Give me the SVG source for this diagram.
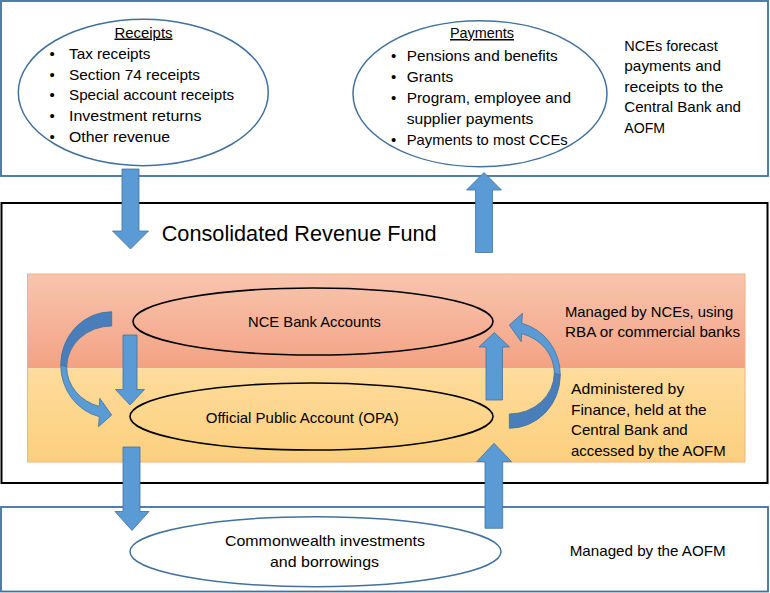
<svg xmlns="http://www.w3.org/2000/svg" width="770" height="593" viewBox="0 0 770 593">
<defs>
<linearGradient id="gTop" x1="0" y1="0" x2="0" y2="1">
<stop offset="0" stop-color="#F8C5AF"/>
<stop offset="1" stop-color="#F3A283"/>
</linearGradient>
<linearGradient id="gBot" x1="0" y1="0" x2="0" y2="1">
<stop offset="0" stop-color="#FEDC9C"/>
<stop offset="1" stop-color="#FCCF7E"/>
</linearGradient>
<style>
.t{font-family:"Liberation Sans",Arial,sans-serif;font-size:15px;fill:#000}
.box{fill:#fff;stroke:#41719C;stroke-width:1.8}
.ell{fill:#fff;stroke:#41719C;stroke-width:1.5}
.bell{fill:none;stroke:#000;stroke-width:1.6}
.arr{fill:#5B9BD5;stroke:#41719C;stroke-width:0.8}
.dark{fill:#4A7EBB;stroke:#41719C;stroke-width:0.8}
</style>
</defs>

<g id="top-panel">
<rect class="box" x="1" y="1" width="767" height="175"/>
</g>

<g id="receipts">
<ellipse class="ell" cx="143.3" cy="92.5" rx="125" ry="73.2"/>
<text class="t" x="143.5" y="37.5" text-anchor="middle" text-decoration="underline" textLength="58" lengthAdjust="spacingAndGlyphs">Receipts</text>
<g class="t">
<text x="49.5" y="59">•</text>
<text x="49.5" y="79.7">•</text>
<text x="49.5" y="100.4">•</text>
<text x="49.5" y="121.1">•</text>
<text x="49.5" y="141.8">•</text>
</g>
<text class="t" x="69" y="59" textLength="81.5" lengthAdjust="spacingAndGlyphs">Tax receipts</text>
<text class="t" x="69" y="79.7" textLength="131" lengthAdjust="spacingAndGlyphs">Section 74 receipts</text>
<text class="t" x="69" y="100.4" textLength="165" lengthAdjust="spacingAndGlyphs">Special account receipts</text>
<text class="t" x="69" y="121.1" textLength="132.5" lengthAdjust="spacingAndGlyphs">Investment returns</text>
<text class="t" x="69" y="141.8" textLength="101" lengthAdjust="spacingAndGlyphs">Other revenue</text>
</g>

<g id="payments">
<ellipse class="ell" cx="480" cy="93.7" rx="127" ry="73"/>
<text class="t" x="482" y="38" text-anchor="middle" text-decoration="underline" textLength="64" lengthAdjust="spacingAndGlyphs">Payments</text>
<g class="t">
<text x="391" y="60.5">•</text>
<text x="391" y="81.5">•</text>
<text x="391" y="102.5">•</text>
<text x="391" y="144.5">•</text>
</g>
<text class="t" x="406.7" y="60.5" textLength="151" lengthAdjust="spacingAndGlyphs">Pensions and benefits</text>
<text class="t" x="406.7" y="81.5" textLength="46.5" lengthAdjust="spacingAndGlyphs">Grants</text>
<text class="t" x="406.7" y="102.5" textLength="164.3" lengthAdjust="spacingAndGlyphs">Program, employee and</text>
<text class="t" x="406.7" y="123.5" textLength="126.7" lengthAdjust="spacingAndGlyphs">supplier payments</text>
<text class="t" x="406.7" y="144.5" textLength="161" lengthAdjust="spacingAndGlyphs">Payments to most CCEs</text>
</g>

<g id="forecast-note">
<text class="t" x="624.3" y="50.5" textLength="93.4" lengthAdjust="spacingAndGlyphs">NCEs forecast</text>
<text class="t" x="624.3" y="71" textLength="96.7" lengthAdjust="spacingAndGlyphs">payments and</text>
<text class="t" x="624.3" y="91.5" textLength="99" lengthAdjust="spacingAndGlyphs">receipts to the</text>
<text class="t" x="624.3" y="112" textLength="116.7" lengthAdjust="spacingAndGlyphs">Central Bank and</text>
<text class="t" x="624.3" y="132.5" textLength="40.7" lengthAdjust="spacingAndGlyphs">AOFM</text>
</g>

<g id="bottom-panel">
<rect class="box" x="1" y="507" width="767" height="84.5"/>
</g>

<g id="commonwealth">
<ellipse class="ell" cx="315.5" cy="551.7" rx="185.5" ry="35"/>
<text class="t" x="325" y="546" text-anchor="middle" textLength="200" lengthAdjust="spacingAndGlyphs">Commonwealth investments</text>
<text class="t" x="324.5" y="567.3" text-anchor="middle" textLength="109" lengthAdjust="spacingAndGlyphs">and borrowings</text>
</g>

<g id="aofm-note">
<text class="t" x="569.7" y="556" textLength="156" lengthAdjust="spacingAndGlyphs">Managed by the AOFM</text>
</g>

<g id="crf">
<rect x="1.5" y="203" width="766" height="280" fill="#fff" stroke="#000" stroke-width="2"/>
<text class="t" x="161.7" y="240.7" style="font-size:22px" textLength="275" lengthAdjust="spacingAndGlyphs">Consolidated Revenue Fund</text>
</g>

<g id="band">
<rect x="27.5" y="274" width="717.5" height="94.3" fill="url(#gTop)"/>
<rect x="27.5" y="368.3" width="717.5" height="93.7" fill="url(#gBot)"/>
<rect x="27.5" y="274" width="717.5" height="188" fill="none" stroke="#F4B183" stroke-width="1"/>
</g>

<g id="nce-bank">
<ellipse class="bell" cx="313" cy="321.5" rx="180" ry="33.5"/>
<text class="t" x="314.5" y="326.5" text-anchor="middle" textLength="133" lengthAdjust="spacingAndGlyphs">NCE Bank Accounts</text>
</g>

<g id="opa">
<ellipse class="bell" cx="311.5" cy="416.5" rx="181.5" ry="33.5"/>
<text class="t" x="302.3" y="422.5" text-anchor="middle" textLength="193" lengthAdjust="spacingAndGlyphs">Official Public Account (OPA)</text>
</g>

<g id="nce-note">
<text class="t" x="565" y="316.7" textLength="168.3" lengthAdjust="spacingAndGlyphs">Managed by NCEs, using</text>
<text class="t" x="565" y="336.5" textLength="175" lengthAdjust="spacingAndGlyphs">RBA or commercial banks</text>
</g>

<g id="opa-note">
<text class="t" x="571" y="394" textLength="113.3" lengthAdjust="spacingAndGlyphs">Administered by</text>
<text class="t" x="571" y="414.5" textLength="135.7" lengthAdjust="spacingAndGlyphs">Finance, held at the</text>
<text class="t" x="571" y="435" textLength="116.7" lengthAdjust="spacingAndGlyphs">Central Bank and</text>
<text class="t" x="571" y="456" textLength="154.7" lengthAdjust="spacingAndGlyphs">accessed by the AOFM</text>
</g>

<g id="connectors">
<path class="arr" d="M122,169 H139 V231 H148.5 L130.5,249 L112.5,231 H122 Z"/>
<path class="arr" d="M484,172.5 L501.5,190 H492.5 V252.5 H475.5 V190 H466.5 Z"/>
<path class="arr" d="M123,335 H137 V389.5 H144.5 L130,405 L115.5,389.5 H123 Z"/>
<path class="arr" d="M494.3,332.5 L509.5,347 H502.5 V400 H486 V347 H479 Z"/>
<path class="arr" d="M123,447 H140 V511.5 H149 L132,530.5 L115,511.5 H123 Z"/>
<path class="arr" d="M494,443.3 L511.5,461.7 H502.7 V528.3 H485 V461.7 H476.7 Z"/>
<g id="curve-left">
<path class="dark" d="M111.7,311.7 A51,53.3 0 0 0 60.7,365 L66.7,367 A45,41 0 0 1 111.7,326 Z"/>
<path class="arr" d="M60.7,365 A51,53.3 0 0 0 99.3,416.7 L98.5,426.7 L111.7,415 L99.8,398.3 L99.3,406.4 A45,41 0 0 1 66.7,367 Z"/>
</g>
<g id="curve-right" transform="rotate(180 310.5 370)">
<path class="dark" d="M111.7,311.7 A51,53.3 0 0 0 60.7,365 L66.7,367 A45,41 0 0 1 111.7,326 Z"/>
<path class="arr" d="M60.7,365 A51,53.3 0 0 0 99.3,416.7 L98.5,426.7 L111.7,415 L99.8,398.3 L99.3,406.4 A45,41 0 0 1 66.7,367 Z"/>
</g>
</g>
</svg>
